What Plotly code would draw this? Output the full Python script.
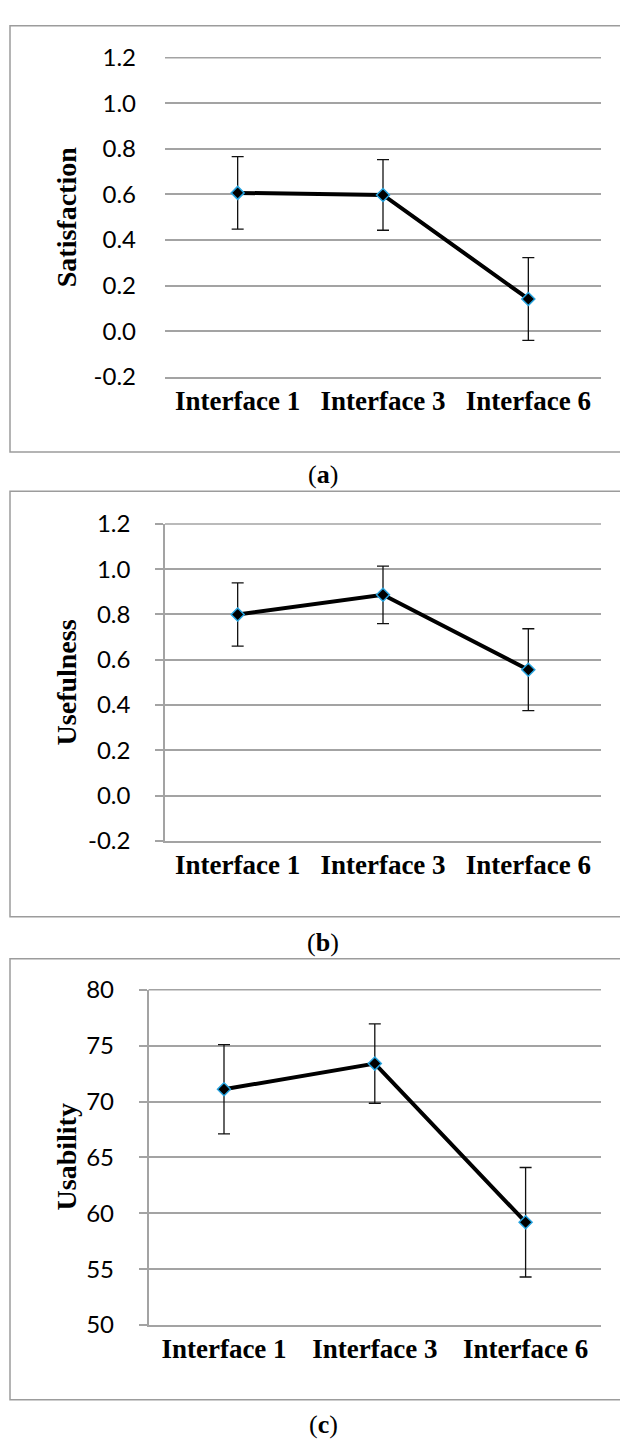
import plotly.graph_objects as go

# ---------------- data ----------------
categories = ["Interface 1", "Interface 3", "Interface 6"]

satisfaction = [0.607, 0.598, 0.141]
satisfaction_err = [0.159, 0.155, 0.182]

usefulness = [0.800, 0.887, 0.556]
usefulness_err = [0.140, 0.127, 0.181]

usability = [71.1, 73.4, 59.2]
usability_err = [4.0, 3.55, 4.9]

score_ticks = [-0.2, 0.0, 0.2, 0.4, 0.6, 0.8, 1.0, 1.2]
score_tick_labels = ["-0.2", "0.0", "0.2", "0.4", "0.6", "0.8", "1.0", "1.2"]
usability_ticks = [50, 55, 60, 65, 70, 75, 80]
usability_tick_labels = ["50", "55", "60", "65", "70", "75", "80"]

titles = ["Satisfaction", "Usefulness", "Usability"]
panel_labels = ["a", "b", "c"]

# ---------------- layout geometry (pixels) ----------------
W, H = 620, 1452


def fx(v):
    return v / W


def fy(v):
    return 1 - v / H


panels = [
    dict(y=satisfaction, e=satisfaction_err, title=titles[0], rng=[-0.2, 1.2],
         tv=score_ticks, tt=score_tick_labels,
         x0=165, x1=601, y0=42.7, y1=368, line=False, box=(10, 445), lab=468, tx=66),
    dict(y=usefulness, e=usefulness_err, title=titles[1], rng=[-0.2, 1.2],
         tv=score_ticks, tt=score_tick_labels,
         x0=165, x1=601, y0=518.3, y1=841.7, line=True, box=(485, 919), lab=945, tx=66),
    dict(y=usability, e=usability_err, title=titles[2], rng=[50, 80],
         tv=usability_ticks, tt=usability_tick_labels,
         x0=148.6, x1=601, y0=993.7, y1=1335.7, line=True, box=(962, 1412), lab=1437, tx=66),
]

GRID = "#a3a3a3"
BORDER = "#9c9c9c"
MARKER_EDGE = "#27a4e0"

fig = go.Figure()
shapes = []
annotations = []

for i, p in enumerate(panels, start=1):
    xa = "x" if i == 1 else f"x{i}"
    ya = "y" if i == 1 else f"y{i}"
    lo, hi = p["rng"]
    fig.add_trace(go.Scatter(
        x=categories, y=p["y"], xaxis=xa, yaxis=ya, mode="lines+markers",
        line=dict(color="black", width=4),
        marker=dict(symbol="diamond", size=10, color="black",
                    line=dict(color=MARKER_EDGE, width=1.5)),
        error_y=dict(type="data", array=p["e"], visible=True, color="#111111",
                     thickness=1.3, width=6),
        showlegend=False, cliponaxis=False,
    ))
    xkey = "xaxis" if i == 1 else f"xaxis{i}"
    ykey = "yaxis" if i == 1 else f"yaxis{i}"
    fig.update_layout(**{
        xkey: dict(domain=[fx(p["x0"]), fx(p["x1"])], anchor=ya, type="category",
                   range=[-0.5, 2.5], showgrid=False, zeroline=False,
                   showline=True, linecolor=GRID, linewidth=1.5,
                   ticks="", ticklabelstandoff=-1,
                   tickfont=dict(family="Liberation Serif", size=27, color="black", weight="bold")),
        ykey: dict(domain=[fy(p["y1"]), fy(p["y0"])], anchor=xa, range=[lo, hi],
                   tickmode="array", tickvals=p["tv"], ticktext=p["tt"],
                   showgrid=True, gridcolor=GRID, gridwidth=1.5, zeroline=False,
                   showline=p["line"], linecolor=GRID, linewidth=1.5,
                   ticks="outside" if p["line"] else "", ticklen=8, tickcolor=GRID, tickwidth=1.5,
                   ticklabelstandoff=20 if p["line"] else 28,
                   tickfont=dict(family="Lato", size=24, color="black")),
    })
    # top gridline along the upper edge of the plot area (plotly omits the edge grid line)
    shapes.append(dict(type="line", xref="paper", yref="paper",
                       x0=fx(p["x0"]), x1=fx(p["x1"]), y0=fy(p["y0"]), y1=fy(p["y0"]),
                       line=dict(color=GRID, width=1.5)))
    # panel border (open on the right, as in the cropped original)
    shapes.append(dict(type="rect", xref="paper", yref="paper",
                       x0=fx(10), x1=fx(640), y0=fy(p["box"][1]), y1=fy(p["box"][0]),
                       line=dict(color=BORDER, width=1.5), fillcolor="rgba(0,0,0,0)", layer="below"))
    # y axis title
    annotations.append(dict(xref="paper", yref="paper", x=fx(p["tx"]),
                            y=fy((p["y0"] + p["y1"]) / 2), text=f"<b>{p['title']}</b>",
                            textangle=-90, showarrow=False, xanchor="center", yanchor="middle",
                            font=dict(family="Liberation Serif", size=28, color="black")))
    # panel label
    annotations.append(dict(xref="paper", yref="paper", x=fx(323), y=fy(p["lab"]),
                            text=f"(<b>{panel_labels[i-1]}</b>)", showarrow=False,
                            xanchor="center", yanchor="middle",
                            font=dict(family="Liberation Serif", size=26, color="black")))

fig.update_layout(width=W, height=H, margin=dict(l=0, r=0, t=0, b=0),
                  paper_bgcolor="white", plot_bgcolor="white",
                  shapes=shapes, annotations=annotations)

fig.write_html("out.html", config={"displayModeBar": False},
               post_script="document.body.style.margin='0';document.body.style.overflow='hidden';")
